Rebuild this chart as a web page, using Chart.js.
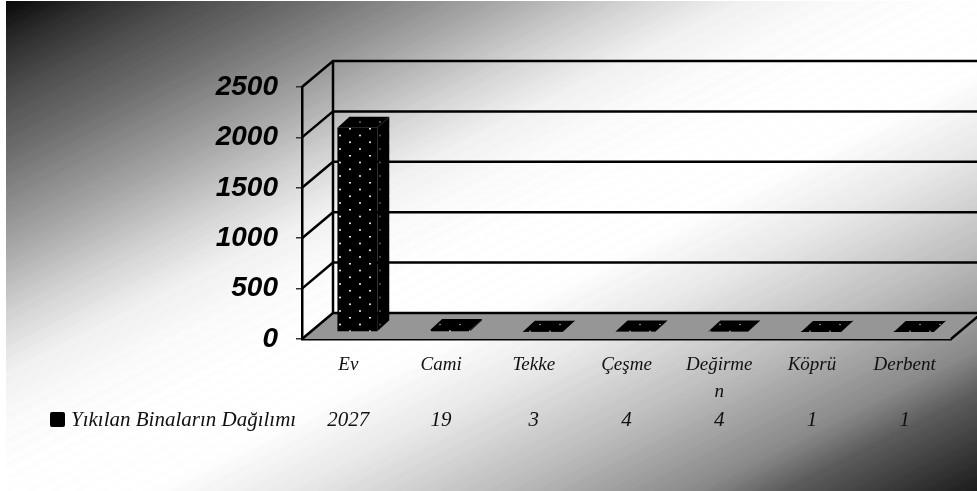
<!DOCTYPE html>
<html lang="tr">
<head>
<meta charset="utf-8">
<title>Yıkılan Binaların Dağılımı</title>
<script src="https://cdn.jsdelivr.net/npm/chart.js@4"></script>
<style>
  html, body { margin: 0; padding: 0; background: #fff; overflow: hidden; }
  #fondo { position: absolute; left: 6px; top: 1px; width: 971px; height: 490px; }
  #grafik { position: absolute; left: 0; top: 0; }
</style>
</head>
<body>
<div id="fondo"></div>
<canvas id="grafik" width="977" height="491"></canvas>
<script>
// --- data ---
const kategoriler = ['Ev', 'Cami', 'Tekke', 'Çeşme', ['Değirme', 'n'], 'Köprü', 'Derbent'];
const degerler = [2027, 19, 3, 4, 4, 1, 1];
const yEtiketleri = [0, 500, 1000, 1500, 2000, 2500];
const seriAdi = 'Yıkılan Binaların Dağılımı';

// 3D look: how far the back wall and the bars are pushed
const duvar = { dx: 31, dy: -26 };
const barKayma = { dx: 9, dy: -7 };
const barDerinlik = { dx: 12, dy: -11 };

// background: grey gradient, corner to corner (position, grey level)
const fonDuraklari = [[0, 8], [0.05, 48], [0.1, 80], [0.154, 108], [0.255, 168], [0.315, 207], [0.378, 240],
  [0.43, 250], [0.5, 255], [0.57, 255], [0.65, 232], [0.757, 187], [0.857, 136], [0.9, 92], [0.95, 60], [1, 28]];

function griSeviye(t) {
  for (let i = 1; i < fonDuraklari.length; i++) {
    const [t0, g0] = fonDuraklari[i - 1], [t1, g1] = fonDuraklari[i];
    if (t <= t1) return g0 + (g1 - g0) * (t - t0) / (t1 - t0);
  }
  return 28;
}

// faint ripple on top of the gradient for the banding of the original
const duraklar = [];
for (let i = 0; i <= 160; i++) {
  const g = Math.min(255, Math.round(griSeviye(i / 160) + (i % 2 ? 1 : -1)));
  duraklar.push(`rgb(${g},${g},${g}) ${(i / 1.6).toFixed(2)}%`);
}
document.getElementById('fondo').style.background = `linear-gradient(to bottom right, ${duraklar.join(',')})`;

function noktaDeseni(renk, r) {
  const c = document.createElement('canvas');
  c.width = 20; c.height = 27;
  const g = c.getContext('2d');
  g.fillStyle = '#000';
  g.fillRect(0, 0, 20, 27);
  g.fillStyle = renk;
  [[11, 21], [11, 7.5], [1, 14.25], [1, 0.75]].forEach(([x, y]) => {
    g.beginPath();
    g.arc(x, y, r, 0, Math.PI * 2);
    g.fill();
  });
  return g.createPattern(c, 'repeat');
}

const ctx = document.getElementById('grafik').getContext('2d');
const onDesen = noktaDeseni('#f4f4f4', 1);
const yanDesen = noktaDeseni('#5c5c5c', 0.9);
const ustDesen = noktaDeseni('#b0b0b0', 0.8);

function cokgen(c, noktalar, dolgu) {
  c.beginPath();
  noktalar.forEach(([x, y], i) => i ? c.lineTo(x, y) : c.moveTo(x, y));
  c.closePath();
  c.fillStyle = dolgu;
  c.fill();
}

// floor, back wall and the slanted side wall lines
const duvarlar = {
  id: 'duvarlar',
  beforeDatasetsDraw(chart) {
    const c = chart.ctx, a = chart.chartArea, y = chart.scales.y;
    c.save();
    cokgen(c, [[a.left, a.bottom], [a.right, a.bottom],
      [a.right + duvar.dx, a.bottom + duvar.dy], [a.left + duvar.dx, a.bottom + duvar.dy]], '#969696');
    c.strokeStyle = '#000';
    c.lineWidth = 2.5;
    yEtiketleri.forEach(v => {
      const py = y.getPixelForValue(v);
      c.beginPath();
      c.moveTo(a.left, py);
      c.lineTo(a.left + duvar.dx, py + duvar.dy);
      c.lineTo(a.right + duvar.dx, py + duvar.dy);
      c.stroke();
    });
    c.beginPath();
    c.moveTo(a.left + duvar.dx, y.getPixelForValue(0) + duvar.dy);
    c.lineTo(a.left + duvar.dx, y.getPixelForValue(2500) + duvar.dy);
    c.stroke();
    c.beginPath();
    c.moveTo(a.right, a.bottom);
    c.lineTo(a.right + duvar.dx, a.bottom + duvar.dy);
    c.stroke();
    c.restore();
  },
  beforeDatasetDraw(chart) {
    chart.ctx.save();
    chart.ctx.translate(barKayma.dx, barKayma.dy);
  },
  afterDatasetDraw(chart) {
    const c = chart.ctx;
    const { dx, dy } = barDerinlik;
    chart.getDatasetMeta(0).data.forEach(b => {
      const l = b.x - b.width / 2, r = b.x + b.width / 2;
      cokgen(c, [[r, b.y], [r, b.base], [r + dx, b.base + dy], [r + dx, b.y + dy]], yanDesen);
      cokgen(c, [[l, b.y], [r, b.y], [r + dx, b.y + dy], [l + dx, b.y + dy]], ustDesen);
    });
    c.restore();
  },
  // data table row under the category labels
  afterDraw(chart) {
    const c = chart.ctx, x = chart.scales.x;
    c.save();
    c.fillStyle = '#000';
    c.beginPath();
    c.roundRect(50, 412, 15, 15, 2);
    c.fill();
    c.fillStyle = '#111';
    c.textBaseline = 'middle';
    c.font = 'italic 21px "Liberation Serif"';
    c.textAlign = 'left';
    c.fillText(seriAdi, 71, 420);
    c.textAlign = 'center';
    degerler.forEach((v, i) => c.fillText(String(v), x.getPixelForValue(i), 420));
    c.restore();
  }
};

new Chart(ctx, {
  type: 'bar',
  data: {
    labels: kategoriler,
    datasets: [{
      label: seriAdi,
      data: degerler,
      backgroundColor: onDesen,
      borderWidth: 0,
      categoryPercentage: 1,
      barPercentage: 0.43,
      clip: false
    }]
  },
  plugins: [duvarlar],
  options: {
    responsive: false,
    animation: false,
    layout: { padding: { top: 87, right: 26, left: 0, bottom: 0 } },
    plugins: { legend: { display: false }, tooltip: { enabled: false } },
    scales: {
      x: {
        afterFit(s) { s.height = 152; },
        grid: { display: false },
        border: { display: true, color: '#000', width: 2.5 },
        ticks: {
          padding: 5,
          maxRotation: 0,
          autoSkip: false,
          color: '#111',
          font: { family: 'Liberation Serif', style: 'italic', size: 19, lineHeight: 1.4 }
        }
      },
      y: {
        min: 0,
        max: 2500,
        afterBuildTicks(s) { s.ticks = yEtiketleri.map(value => ({ value })); },
        afterFit(s) { s.width = 302; },
        grid: { drawOnChartArea: false, tickLength: 6, color: '#333', lineWidth: 1.5 },
        border: { display: true, color: '#000', width: 2.5 },
        ticks: {
          padding: 18,
          color: '#000',
          callback: v => String(v),
          font: { family: 'Liberation Sans', style: 'italic', weight: 'bold', size: 28 }
        }
      }
    }
  }
});
</script>
</body>
</html>
